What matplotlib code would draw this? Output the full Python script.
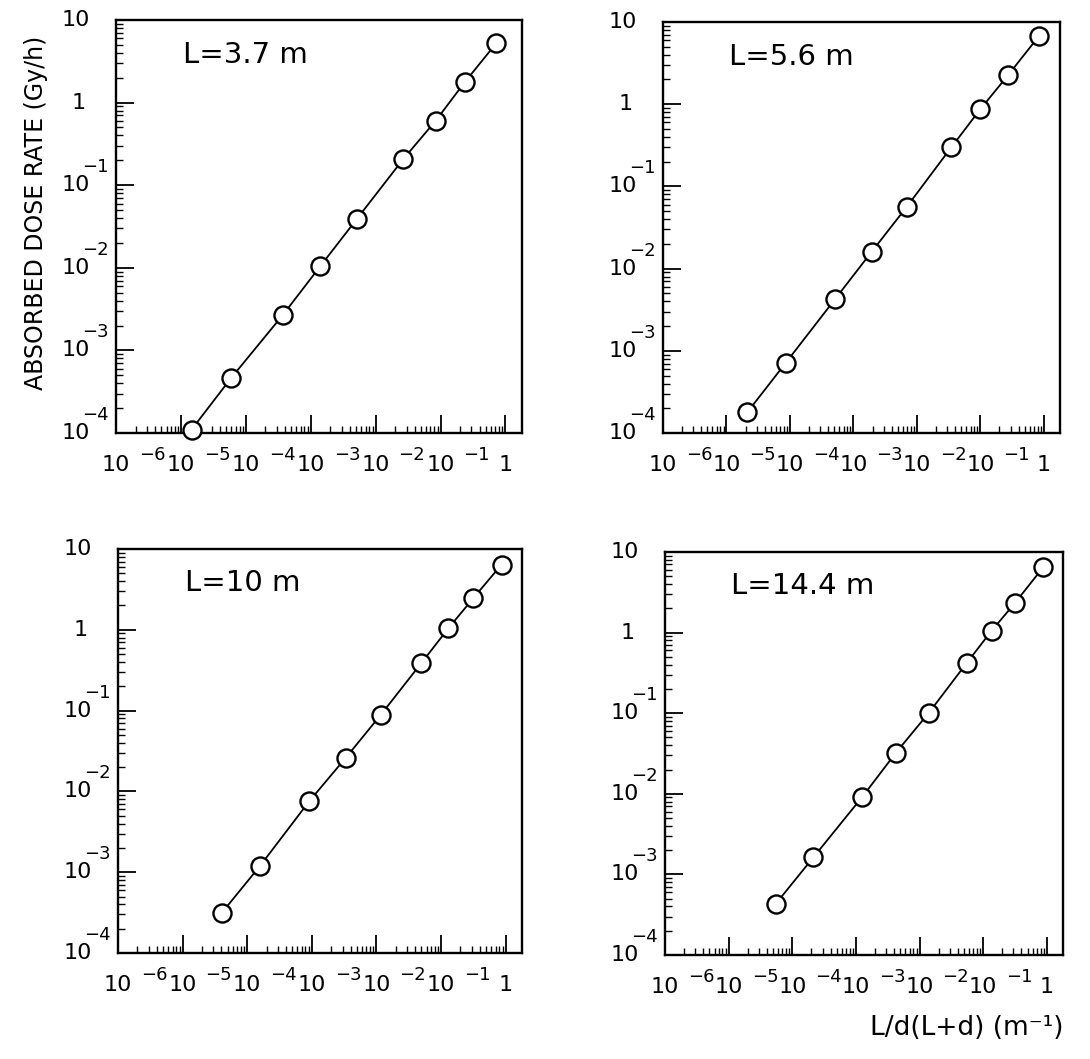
import numpy as np
import matplotlib
matplotlib.use('Agg')
import matplotlib.pyplot as plt
from matplotlib import transforms
from matplotlib.ticker import LogLocator

# (x = L/d(L+d) in 1/m, y = dose rate in Gy/h)
labels = ['L=3.7 m', 'L=5.6 m', 'L=10 m', 'L=14.4 m']

x1 = [1.46e-5, 5.9e-5, 3.7e-4, 1.41e-3, 5.2e-3, 2.64e-2, 0.0838, 0.239, 0.718]
y1 = [1.1e-4, 4.6e-4, 2.67e-3, 1.05e-2, 3.95e-2, 0.205, 0.60, 1.79, 5.2]
x2 = [2.12e-5, 8.55e-5, 5.14e-4, 1.95e-3, 6.95e-3, 0.0348, 0.1, 0.273, 0.834]
y2 = [1.78e-4, 7.1e-4, 4.25e-3, 1.61e-2, 5.66e-2, 0.298, 0.87, 2.25, 6.7]
x3 = [4.03e-5, 1.6e-4, 9.2e-4, 3.37e-3, 0.01167, 0.0492, 0.13, 0.318, 0.867]
y3 = [3.13e-4, 1.21e-3, 7.6e-3, 2.61e-2, 0.0883, 0.383, 1.04, 2.47, 6.4]
x4 = [5.46e-5, 2.15e-4, 1.24e-3, 4.28e-3, 0.014, 0.0559, 0.1355, 0.316, 0.885]
y4 = [4.28e-4, 1.63e-3, 9.0e-3, 0.0325, 0.101, 0.425, 1.05, 2.33, 6.5]

x_exps = [-6, -5, -4, -3, -2, -1, 0]
y_exps = [-4, -3, -2, -1, 0, 1]

W, H = 1090, 1059
fig = plt.figure(figsize=(W / 100, H / 100), dpi=100)
plt.rcParams['font.family'] = 'DejaVu Sans'

# panel boxes in pixels: left, top, right, bottom
boxes = [[116, 20, 522, 433], [663, 22, 1060, 433],
         [118, 549, 522, 953], [665, 552, 1063, 955]]
series = [(x1, y1), (x2, y2), (x3, y3), (x4, y4)]

for (l, t, r, b), (xs, ys), lab in zip(boxes, series, labels):
    ax = fig.add_axes([l / W, 1 - b / H, (r - l) / W, (b - t) / H])
    ax.plot(xs, ys, '-o', color='black', mfc='white', mec='black',
            ms=13, mew=1.7, lw=1.3, clip_on=False, zorder=5)
    ax.set_xscale('log')
    ax.set_yscale('log')
    ax.set_xlim(1e-6, 1.8)
    ax.set_ylim(1e-4, 10)
    for axis in (ax.xaxis, ax.yaxis):
        axis.set_major_locator(LogLocator(base=10, numticks=20))
        axis.set_minor_locator(LogLocator(base=10, subs=np.arange(2, 10), numticks=20))
    ax.tick_params(which='major', direction='in', length=13, width=1.3,
                   top=False, right=False, labelbottom=False, labelleft=False)
    ax.tick_params(which='minor', direction='in', length=5, width=1,
                   top=False, right=False)
    for sp in ax.spines.values():
        sp.set_linewidth(1.7)

    # x tick labels, old plotter style: "10" on the tick, exponent far right
    xt = transforms.blended_transform_factory(ax.transData, ax.transAxes)
    for e in x_exps:
        tr = transforms.offset_copy(xt, fig, x=0, y=-22, units='dots')
        if e == 0:
            ax.text(1.0, 0, '1', transform=tr, ha='center', va='top', fontsize=16)
        else:
            ax.text(10.0 ** e, 0, '10', transform=tr, ha='center', va='top', fontsize=16)
            tr2 = transforms.offset_copy(xt, fig, x=23, y=-13, units='dots')
            ax.text(10.0 ** e, 0, '\u2212%d' % -e, transform=tr2, ha='left', va='top', fontsize=13)

    yt = transforms.blended_transform_factory(ax.transAxes, ax.transData)
    for e in y_exps:
        if e == 0:
            tr = transforms.offset_copy(yt, fig, x=-30, y=0, units='dots')
            ax.text(0, 1.0, '1', transform=tr, ha='right', va='center', fontsize=16)
        else:
            tr = transforms.offset_copy(yt, fig, x=-26, y=0, units='dots')
            ax.text(0, 10.0 ** e, '10', transform=tr, ha='right', va='center', fontsize=16)
            if e < 0:
                tr2 = transforms.offset_copy(yt, fig, x=-34, y=9, units='dots')
                ax.text(0, 10.0 ** e, '\u2212%d' % -e, transform=tr2, ha='left', va='bottom', fontsize=13)

    ax.text(0.165, 0.915, lab, transform=ax.transAxes, ha='left', va='center', fontsize=21)

fig.text(36 / W, 1 - 213 / H, 'ABSORBED DOSE RATE (Gy/h)', rotation=90,
         ha='center', va='center', fontsize=17)
fig.text(1063 / W, 1 - 1028 / H, 'L/d(L+d) (m\u207b\u00b9)', ha='right', va='center', fontsize=19)

fig.savefig('out.png', dpi=100, facecolor='white')
